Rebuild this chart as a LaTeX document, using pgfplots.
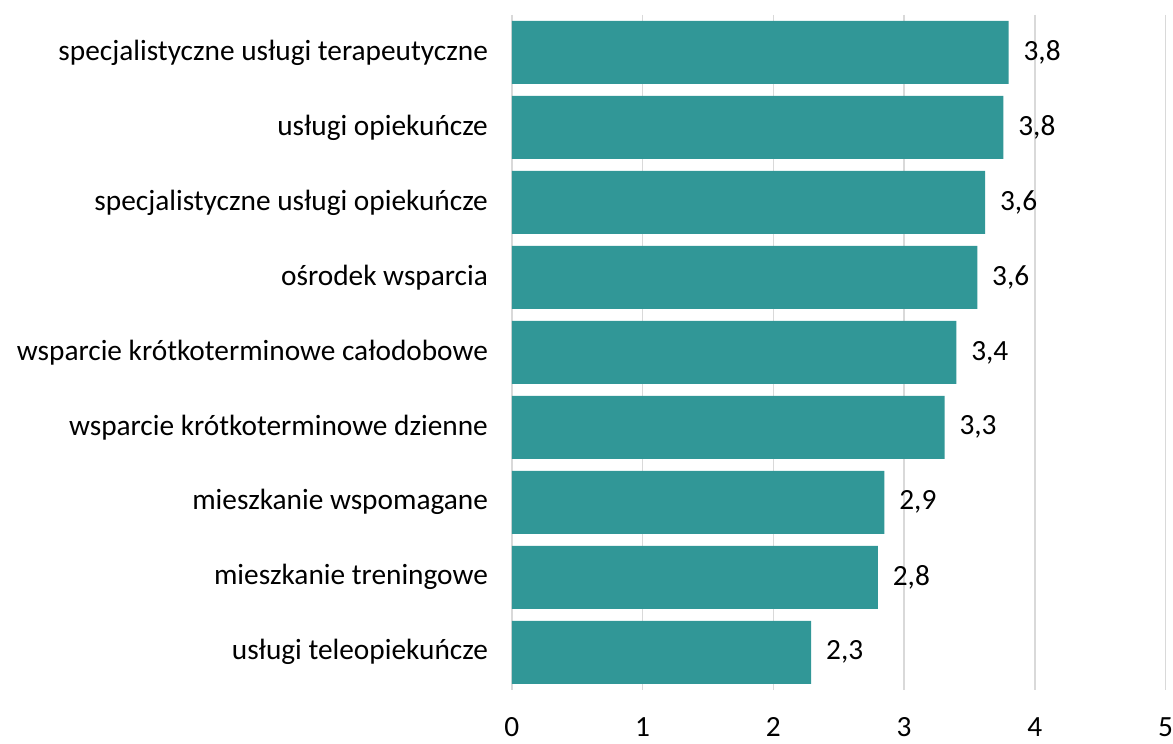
\documentclass[border=0pt]{standalone}
\usepackage{pgfplots}
\pgfplotsset{compat=1.18}
\usepackage{fontspec}
\setmainfont{Carlito}
\definecolor{barc}{RGB}{49,151,151}
\definecolor{gridc}{RGB}{217,217,217}
\begin{document}
\begin{tikzpicture}
\begin{axis}[
  scale only axis, width=490.5pt, height=506.25pt,
  xbar, bar width=47.25pt,
  xmin=0, xmax=5, ymin=-0.5, ymax=8.5, y dir=reverse,
  xtick={0,1,2,3,4,5}, ytick={0,...,8},
  yticklabels={specjalistyczne usługi terapeutyczne, usługi opiekuńcze, specjalistyczne usługi opiekuńcze, ośrodek wsparcia, wsparcie krótkoterminowe całodobowe, wsparcie krótkoterminowe dzienne, mieszkanie wspomagane, mieszkanie treningowe, usługi teleopiekuńcze},
  xmajorgrids, grid style={draw=gridc, line width=1.2pt},
  axis line style={draw=none}, tick style={draw=none},
  /pgf/number format/assume math mode=true,
  xticklabel style={font=\fontsize{22}{26}\selectfont, anchor=north, inner sep=0pt, yshift=-20.5pt},
  yticklabel style={font=\fontsize{22}{26}\selectfont, anchor=east, inner sep=0pt, xshift=-13.5pt},
  nodes near coords, point meta=explicit symbolic,
  nodes near coords style={font=\fontsize{22}{26}\selectfont, anchor=west, inner sep=0pt, xshift=11pt},
]
\addplot[fill=barc, draw=none] table[meta=label] {
x y label
3.80 0 3,8
3.76 1 3,8
3.62 2 3,6
3.56 3 3,6
3.40 4 3,4
3.31 5 3,3
2.85 6 2,9
2.80 7 2,8
2.29 8 2,3
};
\end{axis}
\path ([xshift=-384pt,yshift=-40pt]current axis.south west) rectangle ([xshift=5.25pt,yshift=11.25pt]current axis.north east);
\end{tikzpicture}
\end{document}
